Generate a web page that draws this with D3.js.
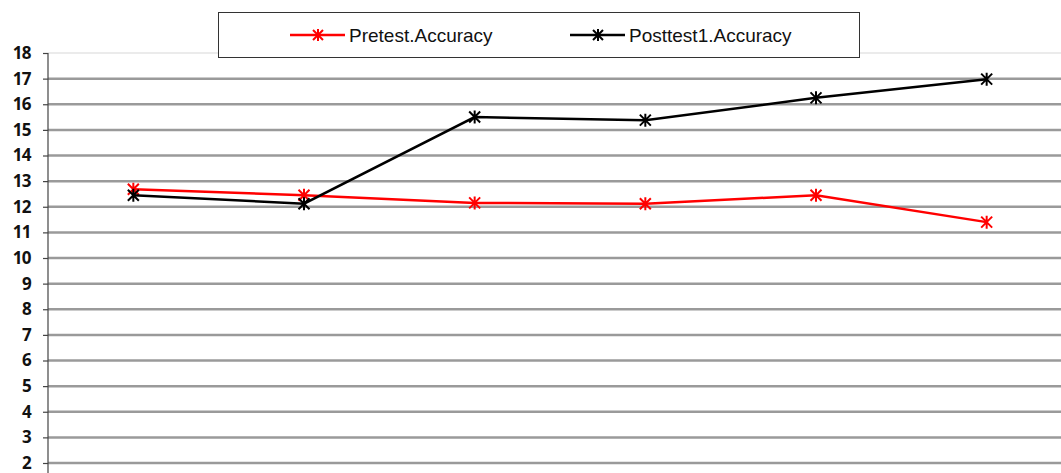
<!DOCTYPE html>
<html>
<head>
<meta charset="utf-8">
<script src="https://cdn.jsdelivr.net/npm/d3@7"></script>
<style>
  body { margin: 0; background: #fff; }
  svg { display: block; }
</style>
</head>
<body>
<div id="chart"></div>
<script>
const categories = ["1", "2", "3", "4", "5", "6"];
const pretest = [12.68, 12.45, 12.15, 12.12, 12.45, 11.4];
const posttest = [12.45, 12.12, 15.5, 15.38, 16.25, 16.98];
const yTicks = d3.range(2, 19);
const seriesNames = ["Pretest.Accuracy", "Posttest1.Accuracy"];
const seriesColors = ["#ff0000", "#000000"];

const W = 1061, H = 473;
const margin = {top: 53, left: 48};
const plotRight = 1072;

const svg = d3.select("#chart")
  .append("svg")
  .attr("width", W)
  .attr("height", H);

const x = d3.scalePoint()
  .domain(categories)
  .range([margin.left, plotRight])
  .padding(0.5);

const y = d3.scaleLinear()
  .domain([2, 18])
  .range([463, margin.top]);

// gridlines
svg.append("g")
  .selectAll("line")
  .data(yTicks)
  .enter()
  .append("line")
  .attr("x1", margin.left)
  .attr("x2", plotRight)
  .attr("y1", d => y(d))
  .attr("y2", d => y(d))
  .attr("stroke", d => d === 18 ? "#e4e4e4" : "#9a9a9a")
  .attr("stroke-width", d => d === 18 ? 1.5 : 2.5);

// y axis
const yAxis = svg.append("g")
  .attr("transform", "translate(" + margin.left + ",0)")
  .call(d3.axisLeft(y).tickValues(yTicks).tickSize(5).tickSizeOuter(0));
yAxis.select(".domain").remove();
yAxis.append("line")
  .attr("x1", 0).attr("x2", 0)
  .attr("y1", y(18)).attr("y2", H)
  .attr("stroke", "#444").attr("stroke-width", 1.2);
yAxis.selectAll(".tick line").attr("stroke", "#444").attr("stroke-width", 1.2);
yAxis.attr("font-family", null).attr("font-size", null);
yAxis.selectAll(".tick text")
  .attr("x", -17)
  .style("font-family", "'Open Sans', 'DejaVu Sans', sans-serif")
  .style("font-weight", "700")
  .style("font-size", "17px")
  .style("letter-spacing", "-0.6px")
  .attr("fill", "#111");

function star(g, cx, cy, color, r) {
  const p = `M${cx - r},${cy - r}L${cx + r},${cy + r}M${cx - r},${cy + r}L${cx + r},${cy - r}M${cx},${cy - r - 1}L${cx},${cy + r + 1}`;
  g.append("path").attr("d", p).attr("stroke", color).attr("stroke-width", 2).attr("fill", "none");
}

const line = d3.line()
  .x((d, i) => x(categories[i]))
  .y(d => y(d));

[pretest, posttest].forEach((vals, k) => {
  const g = svg.append("g");
  g.append("path")
    .datum(vals)
    .attr("d", line)
    .attr("fill", "none")
    .attr("stroke", seriesColors[k])
    .attr("stroke-width", 2.5);
  vals.forEach((v, i) => star(g, x(categories[i]), y(v), seriesColors[k], 5.5));
});

// legend
const legend = svg.append("g");
legend.append("rect")
  .attr("x", 218.5).attr("y", 12.5)
  .attr("width", 641).attr("height", 45)
  .attr("fill", "#fff")
  .attr("stroke", "#333");
const legendX = [290, 570];
seriesNames.forEach((name, k) => {
  const lx = legendX[k];
  legend.append("line")
    .attr("x1", lx).attr("x2", lx + 55)
    .attr("y1", 35).attr("y2", 35)
    .attr("stroke", seriesColors[k]).attr("stroke-width", 2.5);
  star(legend, lx + 28, 35, seriesColors[k], 5);
  legend.append("text")
    .attr("x", lx + 59)
    .attr("y", 35)
    .attr("dy", ".36em")
    .style("font-family", "'Liberation Sans', Arial, sans-serif")
    .style("font-size", "19px")
    .attr("fill", "#111")
    .text(name);
});
</script>
</body>
</html>
